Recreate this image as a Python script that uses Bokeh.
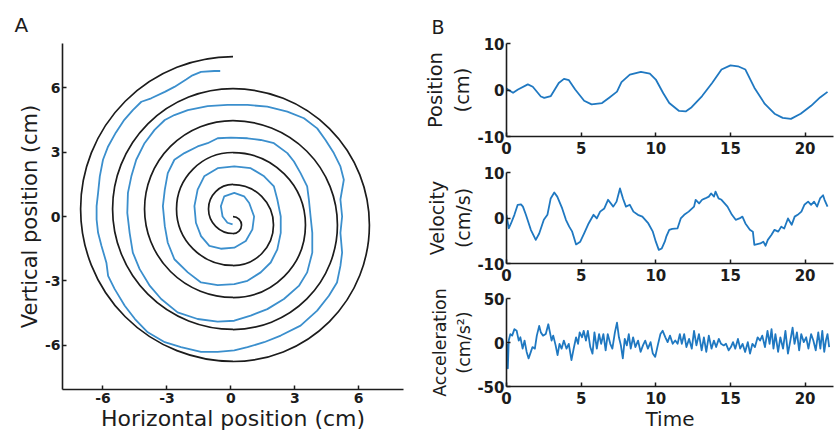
import math
from bokeh.plotting import figure
from bokeh.layouts import row, column
from bokeh.models import FixedTicker, Range1d, PrintfTickFormatter
from bokeh.embed import file_html
from bokeh.resources import INLINE

FONT = "DejaVu Sans"
INK = "#1c1c1c"

# ---------------- Panel A data ----------------
# template spiral: radii where it crosses the vertical line through the centre
black_top = [0.0, 1.5, 3.0, 4.5, 6.0, 7.5]      # crossings above centre (cm)
black_bottom = [0.8, 2.3, 3.8, 5.3, 6.8]        # crossings below centre (cm)
spiral_cx = 0.1

# traced (drawn) spiral, outer end -> centre
trace_x = [-0.50, -0.78, -1.40, -1.80, -2.10, -2.65, -3.10, -3.74, -4.20, -4.60,
           -5.00, -5.40, -5.76, -6.00, -6.15, -6.23, -6.30, -6.30, -6.23, -6.07,
           -5.84, -5.76, -5.45, -4.98, -4.50, -3.90, -3.10, -2.34, -1.40, -0.62,
           0.16, 0.78, 1.56, 2.34, 3.27, 4.05, 4.60, 4.98, 5.14, 5.22,
           5.14, 5.22, 5.14, 5.30, 5.14, 4.83, 4.44, 4.05, 3.43, 2.65,
           1.71, 0.78, -0.16, -1.09, -2.02, -2.65, -3.10, -3.58, -4.05, -4.44,
           -4.67, -4.83, -4.86, -4.75, -4.60, -4.28, -3.80, -3.27, -2.50, -1.56,
           -0.62, 0.16, 0.93, 1.71, 2.49, 3.19, 3.58, 3.82, 3.82, 3.74,
           3.66, 3.58, 3.27, 2.96, 2.65, 2.02, 1.40, 0.78, 0.00, -0.62,
           -1.09, -1.56, -2.18, -2.65, -2.96, -3.10, -3.19, -3.10, -2.96, -2.65,
           -2.02, -1.40, -0.62, 0.16, 0.78, 1.40, 1.87, 2.18, 2.34, 2.34,
           2.18, 2.02, 1.56, 0.93, 0.16, -0.62, -1.25, -1.56, -1.71, -1.64,
           -1.40, -1.01, -0.47, 0.16, 0.70, 1.01, 1.09, 0.86, 0.62, 0.16,
           -0.31, -0.47, -0.39, -0.16, 0.08]
trace_y = [6.77, 6.77, 6.73, 6.57, 6.37, 6.03, 5.80, 5.50, 5.34, 4.95,
           4.50, 3.90, 3.26, 2.64, 1.87, 1.10, 0.48, -0.14, -0.76, -1.37,
           -2.15, -2.76, -3.38, -4.15, -4.77, -5.39, -5.85, -6.08, -6.30, -6.30,
           -6.23, -6.08, -5.85, -5.54, -5.08, -4.38, -3.69, -3.07, -2.30, -1.68,
           -0.76, 0.00, 0.79, 1.71, 2.33, 2.95, 3.56, 4.10, 4.57, 4.88,
           5.11, 5.19, 5.19, 5.14, 4.95, 4.72, 4.49, 4.03, 3.41, 2.64,
           1.87, 1.10, 0.17, -0.76, -1.68, -2.45, -3.23, -3.84, -4.46, -4.77,
           -4.89, -4.85, -4.61, -4.31, -3.84, -3.23, -2.60, -1.68, -0.76, 0.00,
           0.79, 1.40, 2.02, 2.56, 2.95, 3.41, 3.56, 3.64, 3.67, 3.64,
           3.41, 3.26, 2.95, 2.64, 2.02, 1.25, 0.48, -0.45, -1.22, -1.99,
           -2.60, -3.07, -3.19, -3.15, -2.99, -2.60, -2.14, -1.53, -0.76, 0.00,
           0.79, 1.40, 1.87, 2.25, 2.33, 2.25, 1.87, 1.25, 0.48, -0.29,
           -0.91, -1.37, -1.50, -1.45, -1.14, -0.60, 0.00, 0.63, 0.94, 1.10,
           0.94, 0.48, 0.00, -0.29, -0.37]

spiral_ticks = [-6, -3, 0, 3, 6]

# ---------------- Panel B data ----------------
pos_t = [0, 0.44, 0.77, 1.43, 1.76, 2.3, 2.53, 2.97, 3.5, 3.85, 4.18, 4.6, 5.2, 5.7,
         6.4, 6.9, 7.4, 7.7, 8.26, 9.0, 9.6, 10.0, 10.5, 10.9, 11.56, 12.0, 12.4,
         13.1, 13.77, 14.4, 15.0, 15.5, 16.0, 16.6, 17.3, 17.95, 18.5, 19.05, 19.7,
         20.4, 21.0, 21.5]
pos_v = [0.3, -0.6, 0.1, 1.2, 0.7, -1.4, -1.7, -1.3, 1.5, 2.4, 2.1, 0.1, -2.3, -3.1,
         -2.8, -1.6, -0.35, 1.7, 3.3, 3.9, 3.5, 2.25, -0.7, -2.8, -4.5, -4.6, -3.7,
         -1.3, 1.5, 4.4, 5.3, 5.1, 4.4, 0.5, -3.0, -5.1, -6.0, -6.2, -5.1,
         -3.4, -1.6, -0.4]

vel_t = [0.0, 0.15, 0.3, 0.53, 0.75, 0.97, 1.1, 1.3, 1.63, 1.96, 2.19, 2.5, 2.74, 2.96,
         3.2, 3.4, 3.73, 3.98, 4.2, 4.4, 4.66, 4.94, 5.2, 5.5, 5.83, 6.05, 6.27, 6.55,
         6.8, 7.15, 7.37, 7.6, 7.8, 8.0, 8.26, 8.5, 8.8, 9.1, 9.5, 9.8, 10.0, 10.2,
         10.4, 10.6, 10.7, 10.9, 11.1, 11.45, 11.67, 11.9, 12.2, 12.56, 12.67, 12.9,
         13.1, 13.3, 13.55, 13.7, 13.9, 14.0, 14.2, 14.4, 14.8, 15.1, 15.35, 15.6,
         15.8, 16.0, 16.3, 16.5, 16.6, 17.0, 17.2, 17.35, 17.5, 17.75, 17.95, 18.2,
         18.4, 18.6, 18.85, 19.1, 19.3, 19.5, 19.75, 19.95, 20.2, 20.4, 20.6, 20.8,
         21.0, 21.2, 21.3, 21.5]
vel_v = [0.7, -2.3, -1.2, 0.7, 2.9, 3.0, 2.5, 0.7, -2.6, -4.8, -3.4, -0.4, 0.7, 4.3,
         5.6, 4.7, 2.1, -0.4, -1.9, -3.0, -5.8, -5.2, -3.4, -1.2, 0.7, -0.1, 1.4, 2.1,
         4.0, 2.5, 3.6, 6.5, 4.3, 2.5, 2.9, 1.4, 0.7, 0.3, -1.2, -3.0, -5.2, -7.0,
         -6.7, -5.2, -4.1, -2.6, -2.4, -2.3, -0.1, 0.7, 1.4, 2.5, 4.0, 3.2,
         4.0, 4.3, 4.7, 5.4, 4.7, 5.8, 4.3, 4.0, 2.5, 0.7, -0.4, -0.1,
         0.3, -1.2, -2.6, -3.0, -5.9, -5.6, -5.2, -6.1, -4.8, -3.7, -2.6, -3.0,
         -1.9, -2.3, -0.1, -1.5, 0.3, 0.7, 1.4, 2.9, 3.6, 2.9, 3.6, 2.5,
         4.3, 5.0, 4.0, 2.5]

acc_t = [0.02, 0.09, 0.15, 0.26, 0.38, 0.53, 0.68, 0.82, 0.93, 1.08, 1.21, 1.35, 1.48,
         1.63, 1.74, 1.90, 2.03, 2.19, 2.30, 2.45, 2.63, 2.80, 2.91, 3.02, 3.13, 3.29,
         3.42, 3.55, 3.69, 3.84, 4.02, 4.17, 4.35, 4.50, 4.66, 4.79, 4.90, 5.06, 5.17,
         5.32, 5.45, 5.61, 5.76, 5.89, 6.05, 6.20, 6.34, 6.49, 6.64, 6.78, 6.95, 7.09,
         7.26, 7.40, 7.53, 7.66, 7.79, 7.92, 8.06, 8.19, 8.32, 8.48, 8.63, 8.81, 8.98,
         9.14, 9.29, 9.47, 9.65, 9.80, 9.96, 10.13, 10.31, 10.46, 10.64, 10.79, 10.95,
         11.13, 11.30, 11.46, 11.61, 11.74, 11.90, 12.05, 12.23, 12.41, 12.56, 12.72,
         12.89, 13.07, 13.22, 13.38, 13.55, 13.73, 13.89, 14.04, 14.22, 14.37, 14.55,
         14.70, 14.88, 15.03, 15.17, 15.32, 15.50, 15.65, 15.81, 15.98, 16.16, 16.31,
         16.47, 16.64, 16.82, 16.98, 17.13, 17.31, 17.48, 17.62, 17.75, 17.88, 18.01,
         18.19, 18.34, 18.52, 18.68, 18.85, 19.01, 19.16, 19.29, 19.45, 19.60, 19.74,
         19.91, 20.07, 20.22, 20.40, 20.55, 20.71, 20.88, 21.02, 21.15, 21.28, 21.39,
         21.50, 21.61]
acc_v = [-1.5, -29.3, 2.2, 9.6, 7.8, 15.2, 13.3, 2.2, 5.9, -7.0, 2.2, -10.7, -18.1,
         -10.7, -5.2, -7.0, 7.8, 18.9, 11.5, 7.8, 9.6, 20.7, 11.5, 2.2, 7.8, -3.3,
         -14.4, -1.5, -7.0, 2.2, -7.0, -1.5, -20.0, -7.0, 5.9, -1.5, 11.5, 5.9, 13.3,
         2.2, 13.3, -5.2, -12.6, 11.5, -7.0, 9.6, -1.5, 9.6, -8.9, 9.6, -1.5, -7.0,
         11.5, 22.6, 5.9, -3.3, -18.1, 4.1, -3.3, 9.6, -7.0, 5.9, -5.2, 2.2, -10.7,
         -3.3, 2.2, -7.0, 0.4, -12.6, -16.3, -3.3, 9.6, 13.3, 5.9, 0.4, 7.8,
         -1.5, 2.2, -1.5, 9.6, -1.5, 9.6, -5.2, 4.1, -7.0, 13.3, -3.3,
         9.6, -8.9, 5.9, -10.7, 7.8, -7.0, 2.2, -5.2, 4.1, -1.5, -3.3,
         -1.5, -8.9, -5.2, 0.4, -7.0, 4.1, -7.0, -1.5, -10.7, 0.4, -12.6,
         -1.5, -5.2, 5.9, 2.2, 7.8, -5.2, 13.3, -1.5, 15.2, -7.0, 9.6,
         -10.7, 5.9, -7.0, 13.3, -12.6, 2.2, 17.0, -1.5, 11.5, -8.9, 9.6,
         0.4, 5.9, -7.0, 9.6, 2.2, -8.9, 11.5, -7.0, 13.3, -10.7, 2.2,
         9.6, -5.2]

time_ticks = [0, 5, 10, 15, 20]
pos_ticks = [-10, 0, 10]
vel_ticks = [-10, 0, 10]
acc_ticks = [-50, 0, 50]

BLUE_A = "#3b8fcd"
BLUE_B = "#1f78c1"


def style(p, tick_size, label_size, tick_standoff):
    for ax in (p.xaxis[0], p.yaxis[0]):
        ax.axis_line_color = INK
        ax.axis_line_width = 1.6
        ax.major_tick_in = 4
        ax.major_tick_out = 0
        ax.major_tick_line_color = INK
        ax.major_tick_line_width = 1.5
        ax.minor_tick_line_color = None
        ax.formatter = PrintfTickFormatter(format="%d")
        ax.major_label_text_font = FONT
        ax.major_label_text_font_size = tick_size
        ax.major_label_text_font_style = "bold"
        ax.major_label_text_color = INK
        ax.axis_label_text_font = FONT
        ax.axis_label_text_font_size = label_size
        ax.axis_label_text_font_style = "normal"
        ax.axis_label_text_color = INK
        ax.major_label_standoff = 2
        ax.axis_label_standoff = 0
    p.xaxis[0].major_label_standoff = tick_standoff
    p.xgrid.visible = False
    p.ygrid.visible = False
    p.outline_line_color = None
    p.background_fill_color = "white"
    p.border_fill_color = "white"


# ---------------- Panel A ----------------
pa = figure(width=420, height=433, x_range=Range1d(-7.9, 8.1), y_range=Range1d(-8.05, 8.05),
            output_backend="svg", toolbar_location=None, tools="", title="A",
            min_border_left=62, min_border_right=17, min_border_top=43, min_border_bottom=43)
style(pa, "14px", "21px", 3)
pa.xaxis[0].axis_label_text_font_size = "22px"
pa.xaxis[0].ticker = FixedTicker(ticks=spiral_ticks)
pa.yaxis[0].ticker = FixedTicker(ticks=spiral_ticks)
pa.xaxis[0].axis_label = "Horizontal position (cm)"
pa.yaxis[0].axis_label = "Vertical position (cm)"
pa.title.text_font = FONT
pa.title.text_font_size = "20px"
pa.title.text_font_style = "normal"
pa.title.text_color = INK
pa.title.align = "left"
pa.title.offset = -48
pa.title.standoff = 14

# black template spiral built from half-turn arcs between the read crossings
arc_x, arc_y, arc_r, arc_s, arc_e = [], [], [], [], []
for k in range(len(black_bottom)):
    arc_x.append(spiral_cx)
    arc_y.append((black_top[k] - black_bottom[k]) / 2)
    arc_r.append((black_top[k] + black_bottom[k]) / 2)
    arc_s.append(-math.pi / 2)
    arc_e.append(math.pi / 2)
    arc_x.append(spiral_cx)
    arc_y.append((black_top[k + 1] - black_bottom[k]) / 2)
    arc_r.append((black_top[k + 1] + black_bottom[k]) / 2)
    arc_s.append(math.pi / 2)
    arc_e.append(3 * math.pi / 2)
pa.arc(x=arc_x, y=arc_y, radius=arc_r, start_angle=arc_s, end_angle=arc_e,
       direction="anticlock", line_color=INK, line_width=1.7)
pa.line(trace_x, trace_y, line_color=BLUE_A, line_width=1.8, line_join="round")

# ---------------- Panel B ----------------
def make_b(h, top, bottom, t, v, yr, yticks, ylabel, label_size, xlabel=None, title=None):
    p = figure(width=414, height=h, x_range=Range1d(0, 21.9), y_range=Range1d(*yr),
               output_backend="svg", toolbar_location=None, tools="", title=title,
               min_border_left=82, min_border_right=1, min_border_top=top, min_border_bottom=bottom)
    style(p, "15px", label_size, 5)
    p.xaxis[0].ticker = FixedTicker(ticks=time_ticks)
    p.yaxis[0].ticker = FixedTicker(ticks=yticks)
    p.yaxis[0].axis_label = ylabel
    if xlabel:
        p.xaxis[0].axis_label = xlabel
        p.xaxis[0].axis_label_text_font_size = "20px"
    if title:
        p.title.text_font = FONT
        p.title.text_font_size = "19px"
        p.title.text_font_style = "normal"
        p.title.text_color = INK
        p.title.align = "left"
        p.title.offset = -75
        p.title.standoff = 12
    p.line(t, v, line_color=BLUE_B, line_width=1.8, line_join="round")
    return p

p1 = make_b(160, 43, 24, pos_t, pos_v, (-10, 10), pos_ticks, "Position\n(cm)", "19.5px", title="B")
p2 = make_b(127, 12, 24, vel_t, vel_v, (-10, 10), vel_ticks, "Velocity\n(cm/s)", "19px")
p3 = make_b(146, 11, 45, acc_t, acc_v, (-50, 50), acc_ticks, "Acceleration\n(cm/s²)", "17.5px",
            xlabel="Time")

layout = row(pa, column(p1, p2, p3, spacing=0), spacing=0)
open("out.html", "w").write(file_html(layout, INLINE))
